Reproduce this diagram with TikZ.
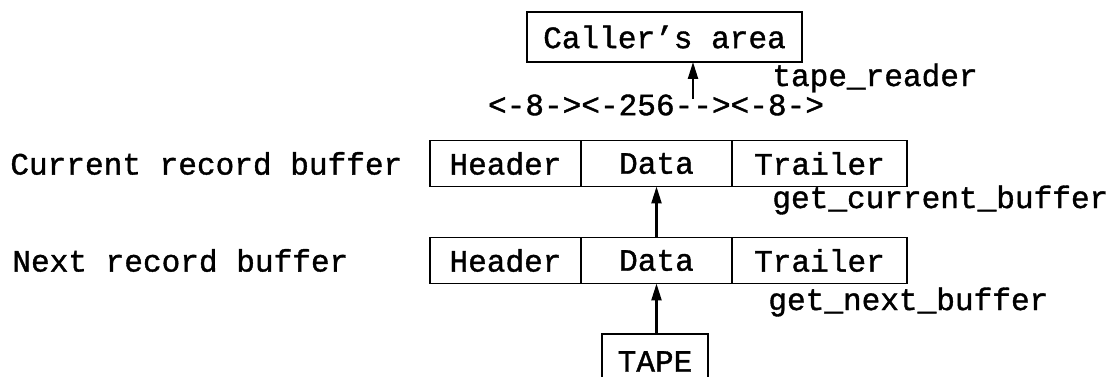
\documentclass[tikz,border=0pt]{standalone}
\usepackage{fontspec}
\setmonofont{Liberation Mono}[FakeBold=1.2]
\usetikzlibrary{positioning,arrows.meta}
\tikzset{
  cell/.style={draw,line width=1.1pt,minimum height=0.92cm,inner sep=0pt,outer sep=0pt},
  lbl/.style={inner sep=0pt,anchor=west},
  up/.style={-{Triangle[length=3.4mm,width=2mm]},line width=1.3pt}
}

\begin{document}
\begin{tikzpicture}[font=\ttfamily\fontsize{17.7}{20}\selectfont]
  \useasboundingbox (0,0) rectangle (22.34,7.54);
  \clip (0,0) rectangle (22.34,7.54);
  % caller's area
  \node[cell,minimum width=5.5cm,minimum height=1cm] (caller) at (13.29,6.80) {Caller’s area};
  \node[lbl,anchor=center] (sizes) at (13.12,5.44) {<-8-><-256--><-8->};
  \node[lbl] (rdr) at (15.44,5.98) {tape\_reader};
  \coordinate (tail) at (13.86,5.56);
  \draw[up] (tail) -- (tail |- caller.south);
  % current record buffer
  \node[lbl] (curlbl) at (0.2,4.27) {Current record buffer};
  \node[cell,minimum width=3.02cm] (ch) at (10.11,4.27) {Header};
  \node[cell,minimum width=3.02cm,right=0pt of ch] (cd) {Data};
  \node[cell,minimum width=3.5cm,right=0pt of cd] (ct) {Trailer};
  \node[lbl] (getcur) at (15.44,3.54) {get\_current\_buffer};
  % next record buffer
  \node[lbl] (nxtlbl) at (0.24,2.33) {Next record buffer};
  \node[cell,minimum width=3.02cm] (nh) at (10.11,2.33) {Header};
  \node[cell,minimum width=3.02cm,right=0pt of nh] (nd) {Data};
  \node[cell,minimum width=3.5cm,right=0pt of nd] (nt) {Trailer};
  \node[lbl] (getnxt) at (15.36,1.50) {get\_next\_buffer};
  \draw[up] (nd.north) -- (cd.south);
  % tape
  \node[cell,minimum width=2.12cm,minimum height=1.1cm] (tape) at (13.1,0.31) {TAPE};
  \draw[up] (nd.south |- tape.north) -- (nd.south);
\end{tikzpicture}
\end{document}
